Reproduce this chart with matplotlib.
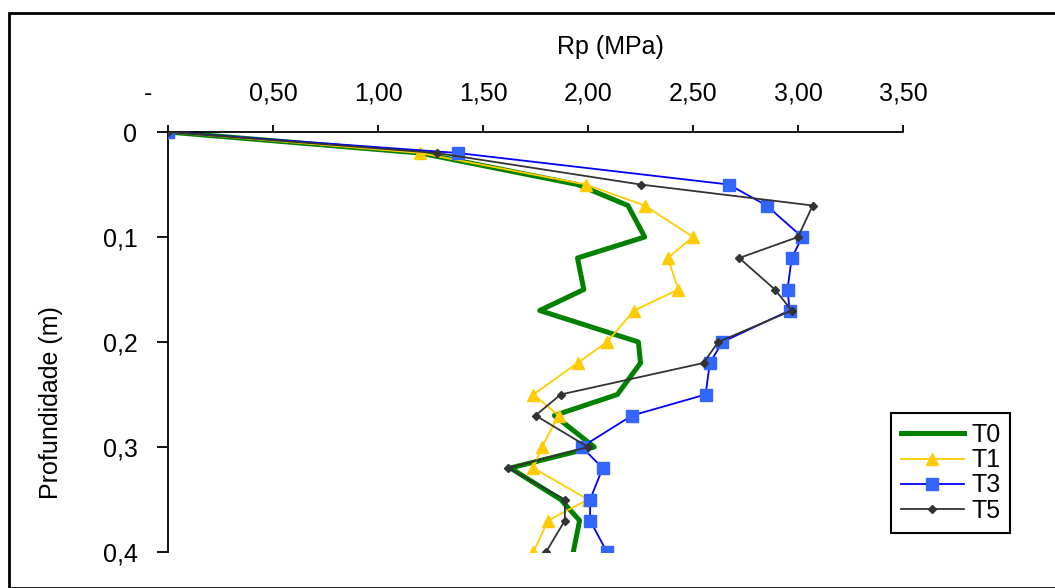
import numpy as np
import matplotlib
matplotlib.use('Agg')
import matplotlib.pyplot as plt
from matplotlib.patches import Rectangle
from matplotlib.transforms import ScaledTranslation

plt.rcParams['font.family'] = ['Liberation Sans', 'DejaVu Sans']

# depth of each reading (m)
depth = [0, 0.02, 0.05, 0.07, 0.10, 0.12, 0.15, 0.17, 0.20, 0.22,
         0.25, 0.27, 0.30, 0.32, 0.35, 0.37, 0.40]

# penetration resistance Rp (MPa) per treatment
t0 = [0, 1.20, 1.95, 2.19, 2.27, 1.95, 1.98, 1.77, 2.24, 2.25,
      2.14, 1.84, 2.03, 1.63, 1.87, 1.96, 1.93]
t1 = [0, 1.20, 1.99, 2.27, 2.50, 2.38, 2.43, 2.22, 2.09, 1.95,
      1.74, 1.86, 1.78, 1.74, 2.00, 1.81, 1.74]
t3 = [0, 1.38, 2.67, 2.85, 3.02, 2.97, 2.95, 2.96, 2.64, 2.58,
      2.56, 2.21, 1.97, 2.07, 2.01, 2.01, 2.09]
t5 = [0, 1.28, 2.25, 3.07, 3.00, 2.72, 2.89, 2.97, 2.62, 2.55,
      1.87, 1.75, 2.00, 1.62, 1.89, 1.89, 1.80]

xticks = [0, 0.5, 1.0, 1.5, 2.0, 2.5, 3.0, 3.5]
xlabels = ['-', '0,50', '1,00', '1,50', '2,00', '2,50', '3,00', '3,50']
yticks = [0, 0.1, 0.2, 0.3, 0.4]
ylabels = ['0', '0,1', '0,2', '0,3', '0,4']

W, H = 1055, 588
fig = plt.figure(figsize=(W / 100, H / 100), dpi=100)
ax = fig.add_axes([168 / W, 1 - 552 / H, 735 / W, 420 / H])

# series
ax.plot(t0, depth, color='#008000', lw=3.6, label='T0', zorder=2)
ax.plot(t1, depth, color='#FFCC00', lw=1.3, marker='^', ms=9,
        mec='#FFCC00', mfc='#FFCC00', label='T1', zorder=3)
ax.plot(t3, depth, color='#0000FF', lw=1.3, marker='s', ms=8,
        mec='#3366FF', mfc='#3366FF', label='T3', zorder=4)
ax.plot(t5, depth, color='#333333', lw=1.3, marker='D', ms=4,
        mec='#333333', mfc='#333333', label='T5', zorder=5)

ax.set_xlim(0, 3.5)
ax.set_ylim(0.4, 0)

# axes: x on top, only top and left spines
ax.xaxis.tick_top()
for s in ['right', 'bottom']:
    ax.spines[s].set_visible(False)
for s in ['top', 'left']:
    ax.spines[s].set_linewidth(1.3)
ax.set_xticks(xticks)
ax.set_xticklabels(xlabels, fontsize=18)
ax.set_yticks(yticks)
ax.set_yticklabels(ylabels, fontsize=18)
ax.tick_params(axis='x', direction='out', length=5, width=1.3, pad=14)
ax.tick_params(axis='y', direction='out', length=8, width=1.3, pad=14)

# "-" label for zero sits a bit left in the original
lab0 = ax.get_xticklabels()[0]
lab0.set_transform(lab0.get_transform() + ScaledTranslation(-0.2, 0, fig.dpi_scale_trans))

fig.text(610 / W, 1 - 47 / H, 'Rp (MPa)', fontsize=18, ha='center', va='center')
fig.text(51 / W, 1 - 403 / H, 'Profundidade (m)', fontsize=18,
         rotation=90, ha='center', va='center')

leg = ax.legend(loc='upper left', bbox_to_anchor=(891 / W, 1 - 413 / H),
                bbox_transform=fig.transFigure, fontsize=18, frameon=True,
                fancybox=False, framealpha=1, edgecolor='black',
                borderaxespad=0, labelspacing=0.05, handlelength=2.5,
                handletextpad=0.3, borderpad=0.4)
leg.get_frame().set_linewidth(1.5)

# outer chart border
fig.patches.append(Rectangle((9 / W, 0), 1, 1 - 13 / H, transform=fig.transFigure,
                             fill=False, edgecolor='black', lw=2))

fig.savefig('out.png', dpi=100)
